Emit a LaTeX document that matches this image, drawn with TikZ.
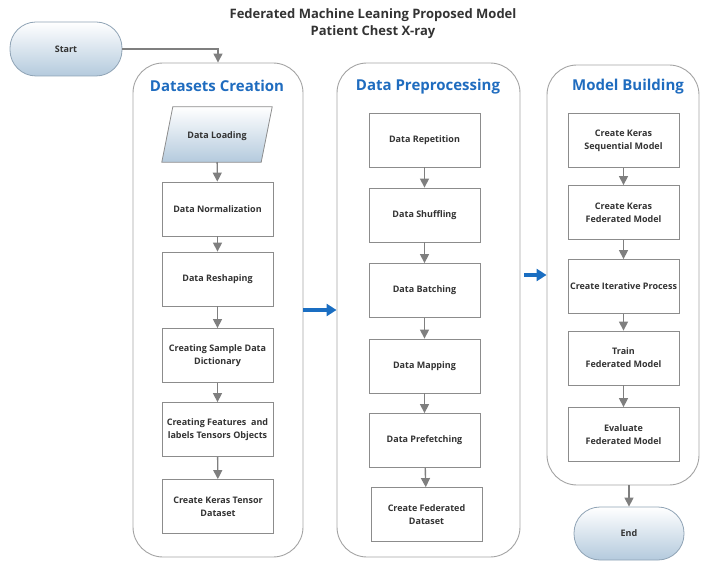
\documentclass[tikz,border=0pt]{standalone}
\usepackage{fontspec}
\setmainfont{Open Sans}
\usetikzlibrary{arrows.meta,calc}
\definecolor{boxgray}{HTML}{8C8C8C}
\definecolor{contgray}{HTML}{A3A3A3}
\definecolor{arrowgray}{HTML}{7F7F7F}
\definecolor{textgray}{HTML}{333333}
\definecolor{titleblue}{HTML}{1F6CBF}
\definecolor{arrowblue}{HTML}{1A6EC2}
\definecolor{pillblue}{HTML}{B4CADD}
\definecolor{pillborder}{HTML}{8FA3B5}
\begin{document}
\begin{tikzpicture}[x=1pt,y=-1pt,
  box/.style={draw=boxgray, line width=0.8pt, fill=white, minimum width=111pt, minimum height=54pt,
    align=center, font=\fontsize{9}{13}\selectfont\bfseries, text=textgray, inner sep=2pt},
  container/.style={draw=contgray, line width=0.9pt, rounded corners=30pt},
  conttitle/.style={font=\fontsize{15}{18}\selectfont\bfseries, text=titleblue},
  pill/.style={draw=pillborder, line width=0.8pt, rounded corners=26pt, top color=white, bottom color=pillblue,
    minimum width=112pt, minimum height=54pt, font=\fontsize{9}{13}\selectfont\bfseries, text=textgray},
  garrow/.style={draw=arrowgray, line width=1.4pt, -{Triangle[width=9pt,length=9pt]}},
  barrow/.style={draw=arrowblue, line width=3.5pt, -{Triangle[width=12pt,length=10pt]}}
]
\useasboundingbox (0,0) rectangle (701,561);

% title
\node[align=center, font=\fontsize{13}{17}\selectfont\bfseries, text=textgray] (title) at (373,23.5)
  {Federated Machine Leaning Proposed Model\\Patient Chest X-ray};

% containers
\node[container, minimum width=170pt, minimum height=494pt] (A) at (218,310) {};
\node[container, minimum width=183pt, minimum height=494pt] (B) at (428.5,310) {};
\node[container, minimum width=152pt, minimum height=420pt] (C) at (623,275) {};
\node[conttitle] (At) at (217,86) {Datasets Creation};
\node[conttitle] (Bt) at (428,87) {Data Preprocessing};
\node[conttitle] (Ct) at (628,87) {Model Building};

% start / end
\node[pill] (start) at (66,49) {Start};
\node[pill, minimum width=110pt, minimum height=53pt] (end) at (629,533.5) {End};

% column A
\node[minimum width=110pt, minimum height=55pt, inner sep=0pt] (load) at (217,134.5) {};
\path[draw=boxgray, line width=0.8pt, top color=white, bottom color=pillblue]
  ($(load.north west)+(11,0)$) -- (load.north east) -- ($(load.south east)-(11,0)$) -- (load.south west) -- cycle;
\node[font=\fontsize{9}{13}\selectfont\bfseries, text=textgray] (loadt) at ($(load)+(0,1.5)$) {Data Loading};
\node[box] (norm) at (217.5,209) {Data Normalization};
\node[box] (resh) at (217.5,279) {Data Reshaping};
\node[box] (dict) at (217.5,355.5) {Creating Sample Data\\Dictionary};
\node[box] (feat) at (217.5,429.5) {Creating Features\ \ and\\labels Tensors Objects};
\node[box] (kten) at (218,506.5) {Create Keras Tensor\\Dataset};

% column B
\node[box] (rep) at (424.5,140) {Data Repetition};
\node[box] (shuf) at (424.5,215) {Data Shuffling};
\node[box] (batch) at (424.5,290.5) {Data Batching};
\node[box] (map) at (424.5,366) {Data Mapping};
\node[box] (pref) at (424.5,440.5) {Data Prefetching};
\node[box] (fed) at (426.5,514.5) {Create Federated\\Dataset};

% column C
\node[box] (seq) at (623.5,140.5) {Create Keras\\Sequential Model};
\node[box] (fmod) at (623.5,212.5) {Create Keras\\Federated Model};
\node[box] (iter) at (623.5,286.5) {Create Iterative Process};
\node[box] (train) at (623.5,358) {Train\\Federated Model};
\node[box] (eval) at (623.5,434.5) {Evaluate\\Federated Model};

% connectors
\draw[garrow] (start.east) -| (A.north);
\draw[garrow] (load) -- (norm);
\draw[garrow] (norm) -- (resh);
\draw[garrow] (resh) -- (dict);
\draw[garrow] (dict) -- (feat);
\draw[garrow] (feat) -- (kten);
\draw[garrow] (rep) -- (shuf);
\draw[garrow] (shuf) -- (batch);
\draw[garrow] (batch) -- (map);
\draw[garrow] (map) -- (pref);
\draw[garrow] (pref) -- (fed);
\draw[garrow] (seq) -- (fmod);
\draw[garrow] (fmod) -- (iter);
\draw[garrow] (iter) -- (train);
\draw[garrow] (train) -- (eval);
\draw[garrow] (end.north |- C.south) -- (end.north);
\draw[barrow] (A.east) -- (B.west);
\draw[barrow, shorten <=4pt] (B.east |- C.west) -- (C.west);
\end{tikzpicture}
\end{document}
